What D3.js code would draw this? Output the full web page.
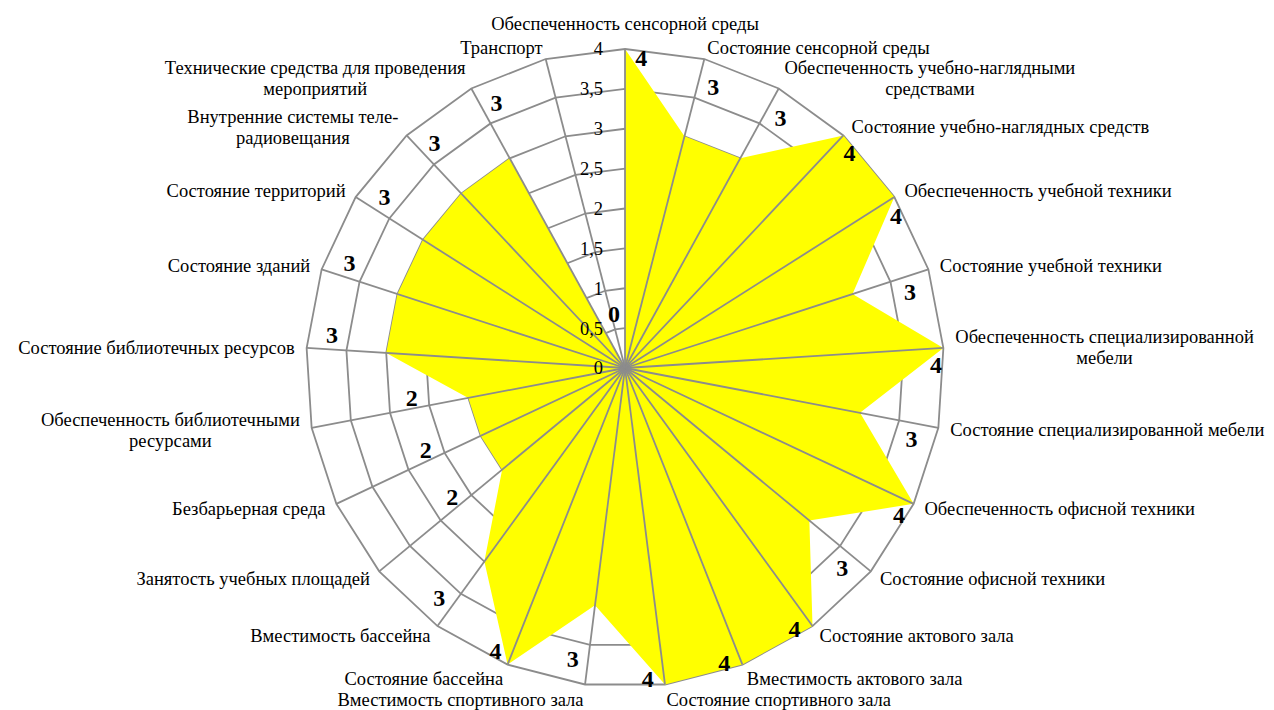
<!DOCTYPE html>
<html><head><meta charset="utf-8">
<script src="https://cdn.jsdelivr.net/npm/d3@7"></script>
<style>
html,body{margin:0;padding:0;background:#fff;}
svg text{font-family:"Liberation Serif","Times New Roman",serif;}
</style></head>
<body>
<svg id="chart" width="1274" height="710"></svg>
<script>
const categories = [
  "Обеспеченность сенсорной среды",
  "Состояние сенсорной среды",
  "Обеспеченность учебно-наглядными средствами",
  "Состояние учебно-наглядных средств",
  "Обеспеченность учебной техники",
  "Состояние учебной техники",
  "Обеспеченность специализированной мебели",
  "Состояние специализированной мебели",
  "Обеспеченность офисной техники",
  "Состояние офисной техники",
  "Состояние актового зала",
  "Вместимость актового зала",
  "Состояние спортивного зала",
  "Вместимость спортивного зала",
  "Состояние бассейна",
  "Вместимость бассейна",
  "Занятость учебных площадей",
  "Безбарьерная среда",
  "Обеспеченность библиотечными ресурсами",
  "Состояние библиотечных ресурсов",
  "Состояние зданий",
  "Состояние территорий",
  "Внутренние системы теле-радиовещания",
  "Технические средства для проведения мероприятий",
  "Транспорт"
];
const values = [4,3,3,4,4,3,4,3,4,3,4,4,4,3,4,3,2,2,2,3,3,3,3,3,0];
const tickValues = [0,0.5,1,1.5,2,2.5,3,3.5,4];
const tickLabels = ["0","0,5","1","1,5","2","2,5","3","3,5","4"];

const svg = d3.select("#chart");
const cx = 625, cy = 368, R = 319;
const n = categories.length;
const step = 2*Math.PI/n;
const r = d3.scaleLinear().domain([0,4]).range([0,R]);
const g = svg.append("g").attr("transform",`translate(${cx},${cy})`);
const gridColor = "#8c8c8c";
const gridW = 1.8;

// rings
const ringLine = d3.lineRadial().angle((d,i)=>i*step).curve(d3.curveLinearClosed);
tickValues.filter(t=>t>0).forEach(t=>{
  g.append("path")
   .attr("d", ringLine.radius(()=>r(t))(categories))
   .attr("fill","none").attr("stroke",gridColor).attr("stroke-width",gridW);
});

// series
const area = d3.lineRadial().angle((d,i)=>i*step).radius(d=>r(d)).curve(d3.curveLinearClosed);
g.append("path").attr("d", area(values)).attr("fill","#ffff00").attr("stroke","none");

// spokes
g.selectAll("line.spoke").data(categories).join("line")
 .attr("x1",0).attr("y1",0)
 .attr("x2",(d,i)=>r(4)*Math.sin(i*step))
 .attr("y2",(d,i)=>-r(4)*Math.cos(i*step))
 .attr("stroke",gridColor).attr("stroke-width",gridW);

// tick labels
g.selectAll("text.tick").data(tickValues).join("text")
 .attr("x",-22).attr("y",d=>-r(d)).attr("dy","0.35em")
 .attr("text-anchor","end").attr("font-size",18.5).attr("fill","#000")
 .text((d,i)=>tickLabels[i]);

// category labels with wrapping
const maxW = 319, lineH = 21, fs = 18.5;
categories.forEach((name,i)=>{
  const a = i*step, s = Math.sin(a), c = Math.cos(a);
  const ax = (R+12)*s, ay = -(R+12)*c;
  const t = g.append("text").attr("font-size",fs).attr("fill","#000").attr("text-anchor","middle");
  const tokens = name.match(/[^\s-]+-?|\s+/g);
  const lines = []; let cur = "";
  const meas = g.append("text").attr("font-size",fs);
  const w = str => { meas.text(str); return meas.node().getComputedTextLength(); };
  tokens.forEach(tok=>{
    if (/^\s+$/.test(tok)) { cur += tok; return; }
    const trial = cur + tok;
    if (cur.trim() !== "" && w(trial.trim()) > maxW) { lines.push(cur.trim()); cur = tok; }
    else cur = trial;
  });
  if (cur.trim()!=="") lines.push(cur.trim());
  const widths = lines.map(w);
  meas.remove();
  const bw = d3.max(widths);
  let centerX;
  if (Math.abs(s) < 0.05) centerX = ax;
  else if (s > 0) centerX = ax + bw/2;
  else centerX = ax - bw/2;
  let centerY = ay;
  if (Math.abs(s) < 0.05) centerY = ay - c*13;
  else centerY = ay + (c < -0.9 ? 3 : 0);
  const top = centerY - (lines.length-1)*lineH/2;
  lines.forEach((ln,k)=>{
    t.append("tspan").attr("x",centerX).attr("y",top + k*lineH).attr("dy","0.35em").text(ln);
  });
});

// data labels
const labelShift = 3*Math.PI/180;
const labelR = d => r(Math.min(d+0.7,3.9));
g.selectAll("text.dl").data(values).join("text")
 .attr("x",(d,i)=>labelR(d)*Math.sin(i*step+labelShift))
 .attr("y",(d,i)=>-labelR(d)*Math.cos(i*step+labelShift))
 .attr("dy","0.35em").attr("text-anchor","middle")
 .attr("font-size",24).attr("font-weight","bold").attr("fill","#000")
 .text(d=>d);
</script>
</body></html>
